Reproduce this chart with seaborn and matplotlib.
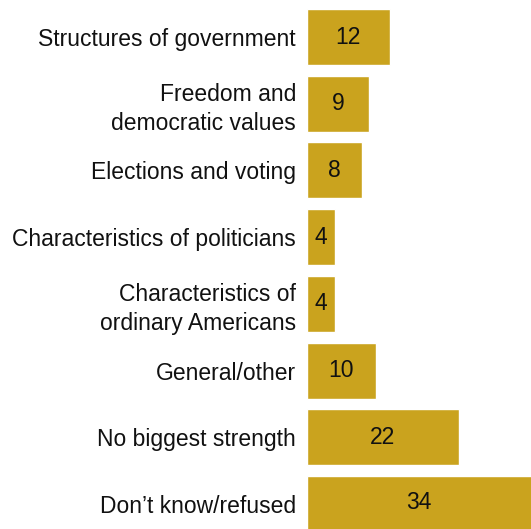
import seaborn as sns
import matplotlib.pyplot as plt
import pandas as pd

categories = [
    "Structures of government",
    "Freedom and\ndemocratic values",
    "Elections and voting",
    "Characteristics of politicians",
    "Characteristics of\nordinary Americans",
    "General/other",
    "No biggest strength",
    "Don\u2019t know/refused",
]
values = [12, 9, 8, 4, 4, 10, 22, 34]

df = pd.DataFrame({"category": categories, "value": values})

sns.set_style("white")
plt.rcParams["font.family"] = ["Liberation Sans", "DejaVu Sans"]

fig = plt.figure(figsize=(5.31, 5.29), dpi=100)
ax = fig.add_axes([307 / 531, 0, 1 - 307 / 531, 1])

sns.barplot(data=df, x="value", y="category", orient="h",
            color="#CAA31E", saturation=1, width=0.84, ax=ax)

for c in ax.containers:
    ax.bar_label(c, label_type="center", fontsize=16.5, color="#111111")

ax.set_xlim(0, 32.5)
ax.set_ylim(7.375, -0.555)
ax.set_xlabel("")
ax.set_ylabel("")
ax.set_xticks([])
ax.tick_params(axis="y", length=0, pad=8, labelsize=16.5, labelcolor="#111111")
for t in ax.get_yticklabels():
    t.set_linespacing(1.3)
sns.despine(ax=ax, left=True, bottom=True, top=True, right=True)

fig.savefig("out.png", dpi=100)
